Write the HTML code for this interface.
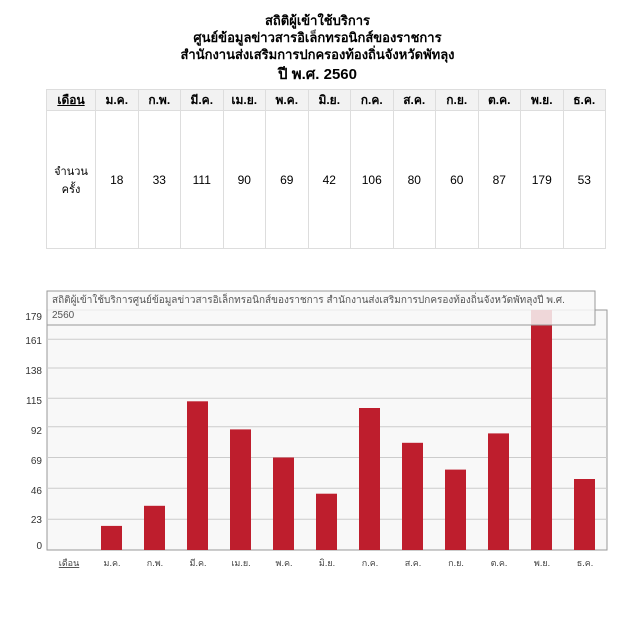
<!DOCTYPE html>
<html><head><meta charset="utf-8"><style>
body{margin:0;width:635px;height:630px;background:#fff;font-family:"Liberation Sans","DejaVu Sans",sans-serif;position:relative;overflow:hidden}
.t{position:absolute;left:0;width:635px;text-align:center;font-weight:bold;font-size:13px;color:#000}
table{position:absolute;left:46px;top:89px;border-collapse:collapse;table-layout:fixed;width:560px;font-size:12px}
td,th{border:1px solid #ddd;text-align:center;padding:0}
th{height:20px;background:#f2f2f2;font-weight:bold;font-size:12px}
td{height:137px;font-size:12px}
</style></head><body>
<div class="t" style="top:10px">สถิติผู้เข้าใช้บริการ</div>
<div class="t" style="top:27px">ศูนย์ข้อมูลข่าวสารอิเล็กทรอนิกส์ของราชการ</div>
<div class="t" style="top:44px">สำนักงานส่งเสริมการปกครองท้องถิ่นจังหวัดพัทลุง</div>
<div class="t" style="top:62px;font-size:15px">ปี พ.ศ. 2560</div>
<table><colgroup><col style="width:49px"><col span="12"></colgroup>
<tr><th><u>เดือน</u></th><th>ม.ค.</th><th>ก.พ.</th><th>มี.ค.</th><th>เม.ย.</th><th>พ.ค.</th><th>มิ.ย.</th><th>ก.ค.</th><th>ส.ค.</th><th>ก.ย.</th><th>ต.ค.</th><th>พ.ย.</th><th>ธ.ค.</th></tr>
<tr><td style="font-size:11px">จำนวน<br>ครั้ง</td><td>18</td><td>33</td><td>111</td><td>90</td><td>69</td><td>42</td><td>106</td><td>80</td><td>60</td><td>87</td><td>179</td><td>53</td></tr>
</table>
<svg style="position:absolute;left:0;top:0" width="635" height="630" font-family="Liberation Sans,DejaVu Sans,sans-serif">
<rect x="47" y="310" width="560" height="240" fill="#f8f8f8" stroke="#999"/>
<g stroke="#ccc">
<line x1="47" x2="607" y1="519.2" y2="519.2"/><line x1="47" x2="607" y1="488.3" y2="488.3"/><line x1="47" x2="607" y1="457.5" y2="457.5"/><line x1="47" x2="607" y1="426.7" y2="426.7"/><line x1="47" x2="607" y1="398.2" y2="398.2"/><line x1="47" x2="607" y1="368.0" y2="368.0"/><line x1="47" x2="607" y1="339.2" y2="339.2"/>
</g>
<g font-size="10" fill="#333" text-anchor="end">
<text x="42" y="549">0</text><text x="42" y="523">23</text><text x="42" y="494">46</text><text x="42" y="464">69</text><text x="42" y="434">92</text><text x="42" y="404">115</text><text x="42" y="374">138</text><text x="42" y="344">161</text><text x="42" y="320">179</text>
</g>
<g fill="#be1e2d">
<rect x="101" y="525.9" width="21" height="24.1"/>
<rect x="144" y="505.8" width="21" height="44.2"/>
<rect x="187" y="401.3" width="21" height="148.7"/>
<rect x="230" y="429.4" width="21" height="120.6"/>
<rect x="273" y="457.5" width="21" height="92.5"/>
<rect x="316" y="493.7" width="21" height="56.3"/>
<rect x="359" y="408.0" width="21" height="142.0"/>
<rect x="402" y="442.8" width="21" height="107.2"/>
<rect x="445" y="469.6" width="21" height="80.4"/>
<rect x="488" y="433.4" width="21" height="116.6"/>
<rect x="531" y="310" width="21" height="240"/>
<rect x="574" y="479.0" width="21" height="71.0"/>
</g>
<rect x="47" y="291" width="548" height="34" fill="#f8f8f8" fill-opacity="0.85" stroke="#999"/>
<text x="52" y="303" font-size="10" fill="#555">สถิติผู้เข้าใช้บริการศูนย์ข้อมูลข่าวสารอิเล็กทรอนิกส์ของราชการ สำนักงานส่งเสริมการปกครองท้องถิ่นจังหวัดพัทลุงปี พ.ศ.</text>
<text x="52" y="318" font-size="10" fill="#555">2560</text>
<g font-size="9" fill="#444" text-anchor="middle">
<text x="69" y="566" text-decoration="underline">เดือน</text><text x="112" y="566">ม.ค.</text><text x="155" y="566">ก.พ.</text><text x="198" y="566">มี.ค.</text><text x="241" y="566">เม.ย.</text><text x="284" y="566">พ.ค.</text><text x="327" y="566">มิ.ย.</text><text x="370" y="566">ก.ค.</text><text x="413" y="566">ส.ค.</text><text x="456" y="566">ก.ย.</text><text x="499" y="566">ต.ค.</text><text x="542" y="566">พ.ย.</text><text x="585" y="566">ธ.ค.</text>
</g>
</svg>
</body></html>
